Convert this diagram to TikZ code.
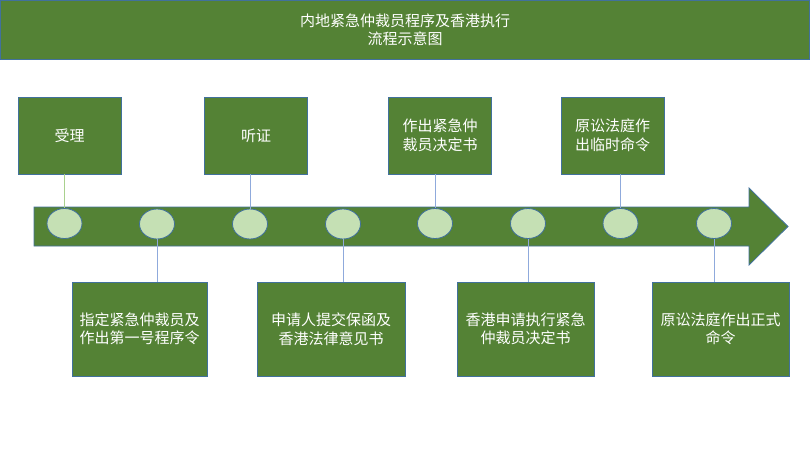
\documentclass[tikz,border=0pt]{standalone}
\usepackage{fontspec}
\setmainfont{Noto Sans CJK SC}
\usetikzlibrary{shapes.geometric}

\definecolor{boxgreen}{HTML}{548235}
\definecolor{edgeblue}{HTML}{41719C}
\definecolor{dotgreen}{HTML}{C5E0B4}
\definecolor{linkblue}{HTML}{8FAADC}
\definecolor{linkgreen}{HTML}{A9D18E}

\begin{document}
\begin{tikzpicture}[
    x=1pt, y=-1pt,
    line width=0.8pt,
    box/.style={rectangle, draw=edgeblue, fill=boxgreen, text=white, align=center,
        inner sep=0pt, font=\fontsize{15}{18.5}\selectfont},
    topbox/.style={box, minimum width=103pt, minimum height=77pt},
    botbox/.style={box, minimum height=94pt},
    dot/.style={ellipse, draw=edgeblue, fill=dotgreen, minimum width=35pt, minimum height=30pt, inner sep=0pt},
    tline/.style={draw=linkblue, line width=1pt}
]
\useasboundingbox (0,0) rectangle (810,457);

% --- Title ---
\node (title) [box, minimum width=809pt, minimum height=59pt, font=\fontsize{15}{18}\selectfont]
    at (405,30) {内地紧急仲裁员程序及香港执行\\流程示意图};

% --- Timeline arrow ---
\filldraw[draw=edgeblue, fill=boxgreen] (34,207) -- (749,207) -- (749,188) -- (788,226.5)
    -- (749,265) -- (749,246) -- (34,246) -- cycle;

% --- Dots ---
\node (e1) [dot] at (64.5,223.5) {};
\node (e2) [dot] at (157,224) {};
\node (e3) [dot] at (250,224) {};
\node (e4) [dot] at (343,224) {};
\node (e5) [dot] at (435,223.5) {};
\node (e6) [dot] at (528,223.5) {};
\node (e7) [dot] at (620.5,223.5) {};
\node (e8) [dot] at (714,223.5) {};

% --- Upper steps ---
\node (t1) [topbox] at (69.5,135.5) {受理};
\node (t2) [topbox] at (256,135.5) {听证};
\node (t3) [topbox] at (440,135.5) {作出紧急仲\\裁员决定书};
\node (t4) [topbox] at (612.5,135.5) {原讼法庭作\\出临时命令};

% --- Lower steps ---
\node (b1) [botbox, minimum width=135pt] at (139.5,329) {指定紧急仲裁员及\\作出第一号程序令};
\node (b2) [botbox, minimum width=148pt] at (331,329) {申请人提交保函及\\香港法律意见书};
\node (b3) [botbox, minimum width=137pt] at (525.5,329) {香港申请执行紧急\\仲裁员决定书};
\node (b4) [botbox, minimum width=137pt] at (720.5,329) {原讼法庭作出正式\\命令};

% --- Links ---
\draw[tline, draw=linkgreen] (e1.north |- t1.south) -- (e1.north);
\draw[tline] (e3.north |- t2.south) -- (e3.north);
\draw[tline] (e5.north |- t3.south) -- (e5.north);
\draw[tline] (e7.north |- t4.south) -- (e7.north);
\draw[tline] (e2.south) -- (e2.south |- b1.north);
\draw[tline] (e4.south) -- (e4.south |- b2.north);
\draw[tline] (e6.south) -- (e6.south |- b3.north);
\draw[tline] (e8.south) -- (e8.south |- b4.north);

\end{tikzpicture}
\end{document}
